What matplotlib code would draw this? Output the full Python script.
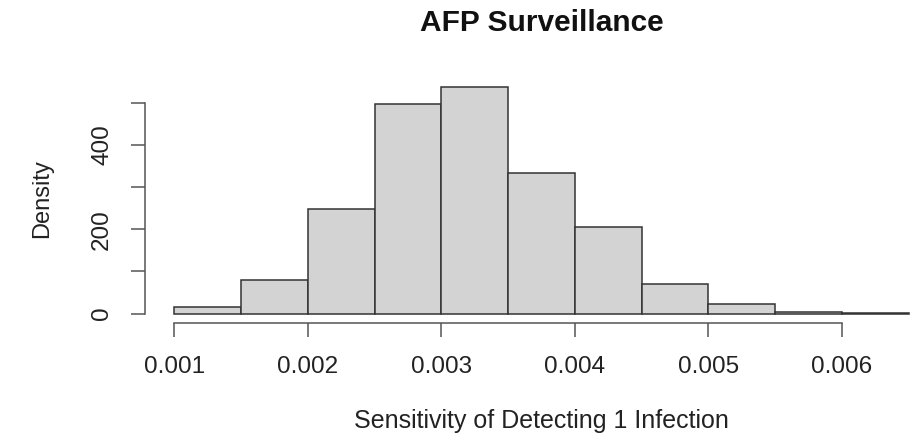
import numpy as np
import matplotlib
matplotlib.use("Agg")
import matplotlib.pyplot as plt

plt.rcParams["font.family"] = ["Liberation Sans", "DejaVu Sans"]

# histogram bins (left edges) and densities
bin_edges = [0.0010, 0.0015, 0.0020, 0.0025, 0.0030, 0.0035,
             0.0040, 0.0045, 0.0050, 0.0055, 0.0060, 0.0065]
density = [15, 80, 249, 496, 536, 334, 205, 70, 22, 5, 2]
x_ticks = [0.001, 0.002, 0.003, 0.004, 0.005, 0.006]
x_tick_labels = ["0.001", "0.002", "0.003", "0.004", "0.005", "0.006"]
y_ticks = [0, 100, 200, 300, 400, 500]
y_tick_labels = ["0", "", "200", "", "400", ""]

W, H = 913, 433
fig = plt.figure(figsize=(W / 100, H / 100), dpi=100)
ax = fig.add_axes([145 / W, (H - 322.7) / H, 793 / W, 244.3 / H])

edges = np.array(bin_edges)
ax.bar(edges[:-1], density, width=np.diff(edges), align="edge",
       color="#d3d3d3", edgecolor="#333333", linewidth=1.1)

# R-style ranges: 4% padding on each side
xr = edges[-1] - edges[0]
ax.set_xlim(edges[0] - 0.04 * xr, edges[-1] + 0.04 * xr)
ymax = max(density)
ax.set_ylim(-0.04 * ymax, 1.04 * ymax)

for s in ("top", "right"):
    ax.spines[s].set_visible(False)
axis_col = "#555555"
ax.spines["left"].set_bounds(0, 500)
ax.spines["bottom"].set_bounds(x_ticks[0], x_ticks[-1])
for s in ("left", "bottom"):
    ax.spines[s].set_color(axis_col)
    ax.spines[s].set_linewidth(1.1)

ax.set_xticks(x_ticks)
ax.set_xticklabels(x_tick_labels)
ax.set_yticks(y_ticks)
ax.set_yticklabels(y_tick_labels, rotation=90, va="center")
ax.tick_params(axis="both", length=10, width=1.1, color=axis_col,
               labelsize=17.5, labelcolor="#222222")
ax.tick_params(axis="x", pad=14)
ax.tick_params(axis="y", pad=13)

cx = (145 + 145 + 793) / 2 / W
fig.text(cx, 1 - 23 / H, "AFP Surveillance", ha="center", va="center",
         fontsize=21.5, fontweight="bold", color="#111111")
fig.text(cx, 1 - 428 / H, "Sensitivity of Detecting 1 Infection",
         ha="center", va="baseline", fontsize=18, color="#222222")
fig.text(42 / W, 1 - 199 / H, "Density", rotation=90, ha="center",
         va="center", fontsize=17, color="#222222")

fig.savefig("out.png", dpi=100)
